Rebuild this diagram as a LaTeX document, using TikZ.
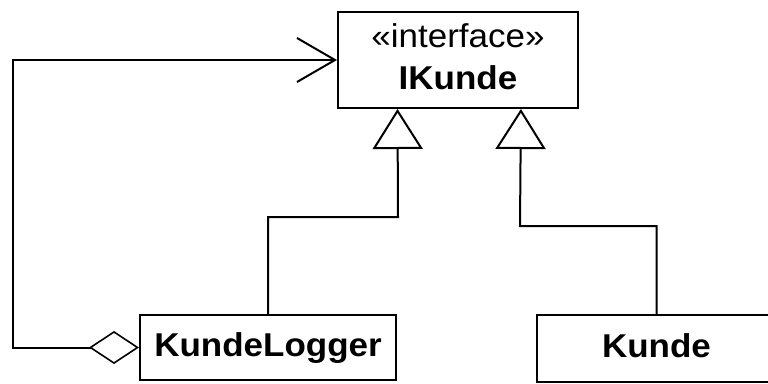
\documentclass[tikz,border=0pt]{standalone}
\usepackage{fontspec}
\setmainfont{Liberation Sans}[FakeStretch=1.06]
\usetikzlibrary{arrows.meta,calc}

\tikzset{
  umlbox/.style={draw, line width=2pt, rectangle, inner sep=0pt,
    font=\fontsize{33}{40}\selectfont\bfseries,
    text height=24pt, text depth=7pt},
  umltext/.style={anchor=base, inner sep=0pt, font=\fontsize{33}{40}\selectfont},
  conn/.style={line width=2pt},
  gen/.style={conn, -{Triangle[open, length=40pt, width=50pt, line width=2pt]}},
  aggr/.style={conn, {Diamond[open, length=50pt, width=33pt, line width=1.6pt]}-{Straight Barb[length=38pt, width=44pt, line width=2pt]}}
}

\begin{document}
\begin{tikzpicture}[x=1pt, y=-1pt]
  \clip (0,0) rectangle (768,383);

  % interface box
  \node[umlbox, minimum width=240pt, minimum height=96pt] (IK) at (458,60) {};
  \node[umltext] (IKst) at ($(IK.north)+(0,36)$) {«interface»};
  \node[umltext, font=\fontsize{33}{40}\selectfont\bfseries] (IKname) at ($(IK.north)+(0,78)$) {IKunde};

  % classes
  \node[umlbox, minimum width=256pt, minimum height=65pt] (KL) at (268,347.5) {KundeLogger};
  \node[umlbox, minimum width=239pt, minimum height=67pt] (K) at (656.5,348.5) {Kunde};

  % bend points
  \coordinate (t1) at ($(IK.south west)!0.25!(IK.south east)$);
  \coordinate (t2) at ($(IK.south west)!0.76!(IK.south east)$);
  \coordinate (j1) at (398,217);
  \coordinate (j2) at (520,226);
  \coordinate (c1) at (13,347.5);

  % realisations
  \draw[gen] (KL.north) |- (j1) -- (t1);
  \draw[gen] (K.north) |- (j2) -- (t2);

  % aggregation back to the interface
  \draw[aggr] (KL.west) -- (c1) |- (IK.west);
\end{tikzpicture}
\end{document}
